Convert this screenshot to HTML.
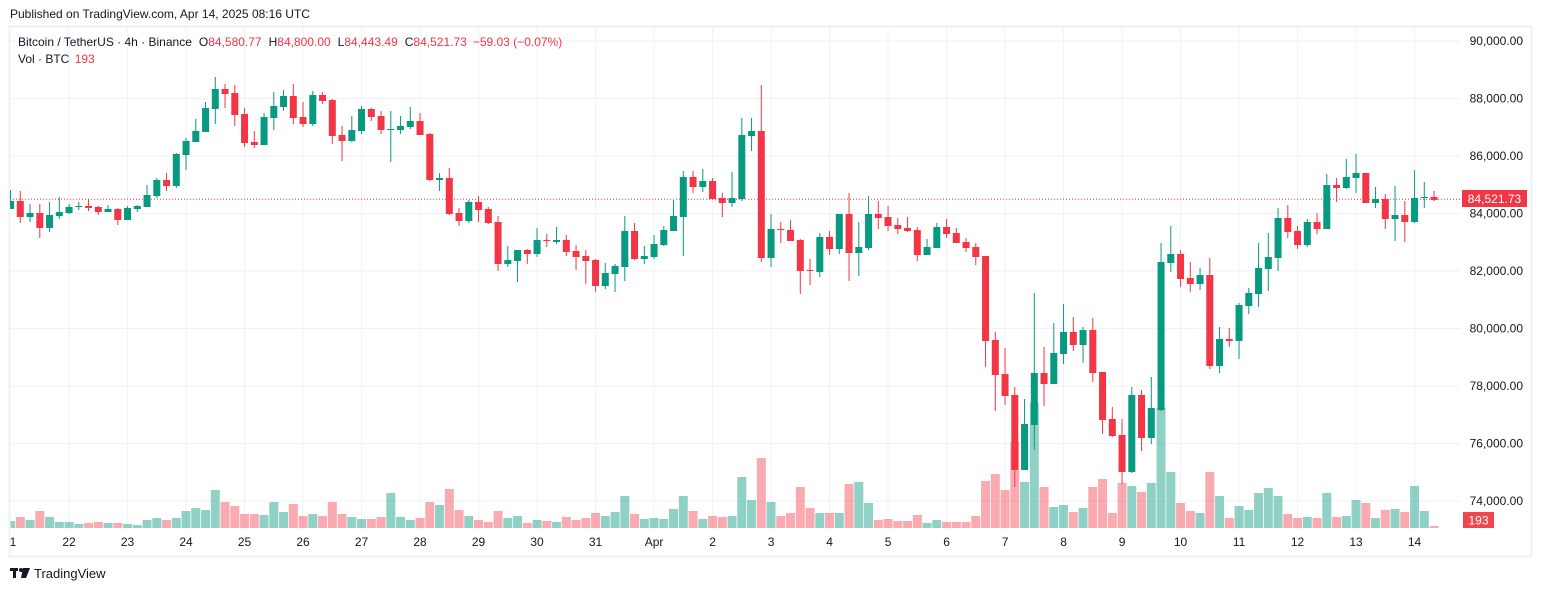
<!DOCTYPE html>
<html><head><meta charset="utf-8"><style>
html,body{margin:0;padding:0;background:#fff;width:1542px;height:591px;overflow:hidden;font-family:"Liberation Sans",sans-serif;}
svg text{font-family:"Liberation Sans",sans-serif;}
</style></head><body>
<svg id="s" width="1542" height="591" xmlns="http://www.w3.org/2000/svg">
<rect x="0" y="0" width="1542" height="591" fill="#fff"/>
<text x="10" y="18" font-size="12" fill="#131722">Published on TradingView.com, Apr 14, 2025 08:16 UTC</text>
<rect x="9.5" y="26.5" width="1522" height="530" fill="none" stroke="#eef0f3" stroke-width="2"/>
<g id="grid"></g>
<line x1="10" y1="199.3" x2="1460" y2="199.3" stroke="#f23645" stroke-width="1" stroke-dasharray="1,2"/>
<g id="vol"></g>
<g id="cdl"></g>
<text x="18" y="46" font-size="12" fill="#131722">Bitcoin / TetherUS · 4h · Binance<tspan dx="7">O</tspan><tspan fill="#f23645">84,580.77</tspan><tspan dx="7">H</tspan><tspan fill="#f23645">84,800.00</tspan><tspan dx="7">L</tspan><tspan fill="#f23645">84,443.49</tspan><tspan dx="7">C</tspan><tspan fill="#f23645">84,521.73</tspan><tspan fill="#f23645" dx="6">−59.03 (−0.07%)</tspan></text>
<text x="18" y="63" font-size="12" fill="#131722">Vol · BTC <tspan fill="#f23645" dx="2">193</tspan></text>
<g id="axis" font-size="12" fill="#131722"></g>
<rect x="1462" y="190" width="65" height="17" fill="#f23645"/>
<text x="1494.5" y="203" font-size="12" fill="#fff" text-anchor="middle">84,521.73</text>
<rect x="1463" y="512" width="31" height="16" fill="#f0474f"/>
<text x="1478.5" y="524.5" font-size="12" fill="#fff" text-anchor="middle">193</text>
<g fill="#131722"><rect x="10" y="568" width="8" height="3"/><rect x="13" y="568" width="3" height="10"/><circle cx="21" cy="570" r="2"/><polygon points="23,568 30,568 26,578 21,578"/></g>
<text x="34" y="578" font-size="13" fill="#131722">TradingView</text>
</svg>
<script>
(function(){
var NS="http://www.w3.org/2000/svg";
function el(t,a,p){var e=document.createElementNS(NS,t);for(var k in a)e.setAttribute(k,a[k]);document.getElementById(p).appendChild(e);return e;}
function X(i){return 20.3+9.75*i;}
var prices=["90,000.00","88,000.00","86,000.00","84,000.00","82,000.00","80,000.00","78,000.00","76,000.00","74,000.00"];
for(var k=0;k<9;k++){var y=41+57.5*k;el("line",{x1:10,x2:1460,y1:y,y2:y,stroke:"#f0f2f5","stroke-width":1},"grid");
var t=el("text",{x:1523,y:y+4,"text-anchor":"end"},"axis");t.textContent=prices[k];}
var days=["22","23","24","25","26","27","28","29","30","31","Apr","2","3","4","5","6","7","8","9","10","11","12","13","14"];
for(var d=0;d<days.length;d++){var x=X(5+6*d);el("line",{x1:x,x2:x,y1:27,y2:530,stroke:"#f0f2f5","stroke-width":1},"grid");
var t2=el("text",{x:x,y:546,"text-anchor":"middle"},"axis");t2.textContent=days[d];}
var t3=el("text",{x:13,y:546,"text-anchor":"middle"},"axis");t3.textContent="1";
var C=[[209,190,209,201],[201,191,223,217],[217,204,222,213],[213,204,238,228],[228,202,232,215],[216,197,219,212],[213,204,214,207],[207,202,210,206],[206,199,211,208],[207,206,215,212],[212,205,212,209],[209,208,225,220],[220,206,220,208],[209,205,212,206],[207,185,207,195],[196,178,198,180],[180,173,191,186],[186,153,188,154],[155,138,170,141],[142,119,142,131],[132,102,132,108],[109,77,124,89],[89,84,108,94],[93,85,126,115],[114,108,147,143],
[142,131,148,145],[145,113,145,117],[118,92,130,106],[107,90,111,96],[96,84,124,118],[117,102,127,124],[124,91,126,95],[95,92,104,101],[100,99,144,136],[135,126,161,141],[141,116,142,130],[131,106,134,109],[109,108,121,117],[116,111,134,130],[130,111,162,129],[130,116,134,126],[127,107,129,121],[121,113,135,135],[134,133,181,180],[180,173,191,178],[178,168,215,214],[213,208,226,221],[221,200,223,202],[202,196,222,210],[209,207,224,223],
[222,216,271,264],[264,246,267,260],[261,250,282,250],[250,249,264,254],[254,228,257,240],[240,234,247,241],[242,227,244,240],[240,235,256,252],[251,245,270,257],[256,250,284,261],[260,259,292,286],[286,263,289,273],[274,264,292,266],[267,216,281,231],[231,223,260,259],[259,246,264,256],[257,235,259,244],[245,226,246,230],[231,200,231,216],[217,171,256,177],[177,171,193,187],[187,169,192,181],[181,178,199,199],[198,193,217,203],
[203,172,207,198],[199,118,201,135],[136,118,151,131],[131,85,262,258],[258,214,267,229],[229,222,243,230],[230,220,241,241],[240,239,294,271],[270,259,285,271],[272,233,277,237],[237,231,255,249],[249,214,254,214],[214,193,281,253],[253,222,276,247],[248,196,250,214],[214,201,229,218],[217,206,231,226],[225,218,234,229],[228,217,232,231],[230,227,261,255],[255,239,255,247],[248,223,248,227],[227,219,238,234],[233,228,243,243],[242,238,252,248],
[247,243,265,257],[256,256,367,341],[340,332,411,375],[374,348,405,396],[395,387,487,470],[470,399,470,424],[425,293,450,373],[373,347,406,384],[384,323,384,353],[354,304,364,332],[332,317,351,345],[345,327,363,330],[330,318,382,373],[372,372,434,420],[419,407,437,436],[435,419,484,472],[472,387,473,395],[395,390,451,438],[438,377,444,408],[410,243,411,262],[263,226,272,254],[254,250,287,279],[278,262,292,284],[284,268,290,275],[275,258,369,366],
[366,327,373,339],[339,328,347,341],[341,303,359,305],[306,288,314,293],[294,243,307,268],[269,233,291,257],[258,208,271,218],[218,205,238,232],[231,226,249,245],[245,219,247,222],[222,213,234,229],[229,174,229,185],[185,178,202,188],[188,159,189,177],[178,154,193,173],[173,173,203,203],[203,187,208,199],[199,194,229,219],[219,186,241,215],[215,201,242,222],[222,170,223,198],[198,182,208,197],[197,191,201,200]];
var V=[521,517,520,511,517,522,522,524,523,522,523,523,524,525,520,518,520,518,511,508,510,490,502,506,514,
514,515,502,512,504,516,514,516,502,514,517,519,519,517,493,517,520,518,502,505,489,510,516,520,522,
511,518,516,523,520,521,522,517,520,518,513,516,512,496,514,519,518,519,509,496,511,519,516,517,
516,477,500,458,502,516,513,487,508,513,513,513,484,482,503,520,519,521,521,515,523,520,522,522,522,
516,481,474,490,442,482,403,487,507,505,512,508,487,479,513,483,486,492,483,408,472,503,511,513,472,
496,518,506,510,493,488,496,514,518,517,518,493,517,516,500,503,518,510,509,512,486,511,526];
for(var j=0;j<C.length;j++){var i=j-1,c=C[j],cx=X(i),isUp=c[3]<=c[0];
var col=isUp?"#089981":"#f23645",vcol=isUp?"rgba(8,153,129,0.45)":"rgba(242,54,69,0.42)";
var vx=Math.max(cx-4.5,10.5);el("rect",{x:vx,y:V[j],width:cx+4.5-vx,height:528-V[j],fill:vcol},"vol");
el("rect",{x:cx-0.5,y:c[1],width:1,height:Math.max(c[2]-c[1],1),fill:col},"cdl");
var by=Math.min(c[0],c[3]),bh=Math.max(Math.abs(c[3]-c[0]),1);
var bx=Math.max(cx-3.5,10.5);el("rect",{x:bx,y:by,width:cx+3.5-bx,height:bh,fill:col},"cdl");}
})();
</script>
</body></html>
